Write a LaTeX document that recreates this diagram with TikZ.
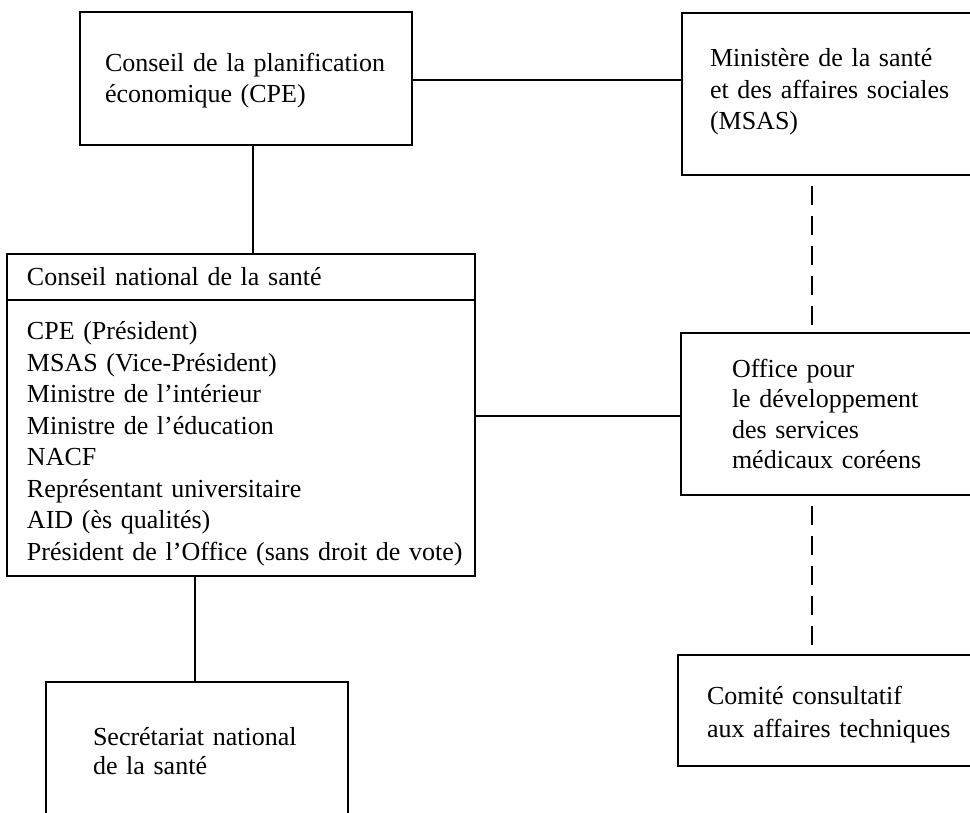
\documentclass[tikz,border=0pt]{standalone}
\usepackage{fontspec}
\setmainfont{Liberation Serif}
\begin{document}
\begin{tikzpicture}[x=1pt,y=-1pt,
  box/.style={draw, line width=2pt, rectangle, align=left, outer sep=0pt,
    inner ysep=0pt, font=\fontsize{26}{31.5}\selectfont},
  link/.style={line width=2pt},
  dlink/.style={line width=2pt, dash pattern=on 19pt off 11pt, dash phase=19pt}]
\clip (0,0) rectangle (970,813);
\fill[white] (0,0) rectangle (970,813);
\node[box, text width=282pt, inner xsep=25pt, minimum height=133pt] (cpe) at (246,78.5)
  {\rule{0pt}{23pt}\mbox{Conseil de la planification}\\\mbox{économique (CPE)}};
\node[box, anchor=west, text width=320pt, inner xsep=28pt, minimum height=162pt] (msas) at (682,94)
  {\mbox{Ministère de la santé}\\\mbox{et des affaires sociales}\\\mbox{(MSAS)}\rule[-10pt]{0pt}{10pt}};
\node[box, anchor=north west, text width=428pt, inner xsep=20pt, minimum height=46pt] (cnhead) at (7,254)
  {\mbox{Conseil national de la santé}};
\node[box, anchor=north west, text width=428pt, inner xsep=20pt, minimum height=276pt] (cnbody) at (7,300)
  {\rule{0pt}{30pt}\mbox{CPE (Président)}\\
   \mbox{MSAS (Vice-Président)}\\
   \mbox{Ministre de l’intérieur}\\
   \mbox{Ministre de l’éducation}\\
   \mbox{NACF}\\
   \mbox{Représentant universitaire}\\
   \mbox{AID (ès qualités)}\\
   \mbox{Président de l’Office (sans droit de vote)}};
\node[box, anchor=west, text width=300pt, inner xsep=51pt, minimum height=162pt,
  font=\fontsize{26}{30.5}\selectfont] (office) at (681,414)
  {\mbox{Office pour}\\\mbox{le développement}\\\mbox{des services}\\\mbox{médicaux coréens}};
\node[box, anchor=west, text width=320pt, inner xsep=29pt, minimum height=111pt,
  font=\fontsize{26}{33}\selectfont] (comite) at (678,710.5)
  {\rule{0pt}{26pt}\mbox{Comité consultatif}\\\mbox{aux affaires techniques}};
\node[box, anchor=north west, text width=208pt, inner xsep=47pt, minimum height=139pt,
  font=\fontsize{26}{29}\selectfont] (secr) at (46,682)
  {\mbox{Secrétariat national}\\\mbox{de la santé}};
\coordinate (h1) at (0,80);
\coordinate (h2) at (0,416);
\coordinate (v1) at (253,0);
\coordinate (v2) at (195,0);
\coordinate (v3) at (812,0);
\draw[link] (cpe.east |- h1) -- (msas.west |- h1);
\draw[link] (v1 |- cpe.south) -- (v1 |- cnhead.north);
\draw[link] (cnbody.east |- h2) -- (office.west |- h2);
\draw[link] (v2 |- cnbody.south) -- (v2 |- secr.north);
\draw[dlink] (v3 |- msas.south) -- (v3 |- office.north);
\draw[dlink] (v3 |- office.south) -- (v3 |- comite.north);
\end{tikzpicture}
\end{document}
